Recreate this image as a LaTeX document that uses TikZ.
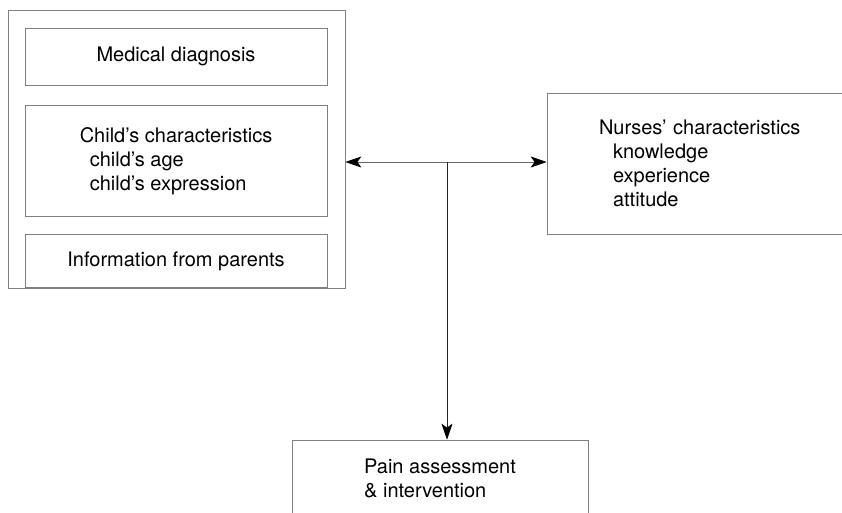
\documentclass[tikz,border=0pt]{standalone}
\usepackage{fontspec}
\setmainfont{TeX Gyre Heros}
\usetikzlibrary{positioning}
\usetikzlibrary{arrows.meta}

\begin{document}
\begin{tikzpicture}[
	x=1pt, y=-1pt,
	box/.style={draw=black!50, line width=0.7pt, rectangle, minimum width=302pt, align=left, font=\fontsize{20}{24}\selectfont},
	edge/.style={draw=black!60, line width=0.7pt, -{Stealth[length=16pt, width=11pt, inset=4pt, black]}}
	]
	\useasboundingbox (0,0) rectangle (842,513);
	\clip (0,0) rectangle (842,513);
	
	% Nodes
	\node[box, minimum width=337pt, minimum height=278pt] (factors) at (176.5,149) {};
	\node[box, minimum height=57pt] (diagnosis) at (176,56.5) {Medical diagnosis};
	\node[box, minimum height=111pt, below=20pt of diagnosis] (child) {Child's characteristics\\\hspace{10pt}child's age\\\hspace{10pt}child's expression};
	\node[box, minimum height=53pt, below=17pt of child] (parents) {Information from parents};
	\node[box, inner xsep=52pt, text width=206pt, minimum height=141pt] (nurses) at (702,163.5) {Nurses' characteristics\\\hspace{14pt}knowledge\\\hspace{14pt}experience\\\hspace{14pt}attitude};
	\node[box, minimum width=296pt, minimum height=76pt] (pain) at (440,478) {Pain assessment\\\& intervention};
	\coordinate (hub) at (447,162);
	
	% Edges
	\draw[edge] (hub) -- (hub -| factors.east);
	\draw[edge] (hub) -- (hub -| nurses.west);
	\draw[edge, draw=black!85] (hub) -- (pain.north -| hub);
\end{tikzpicture}
\end{document}
